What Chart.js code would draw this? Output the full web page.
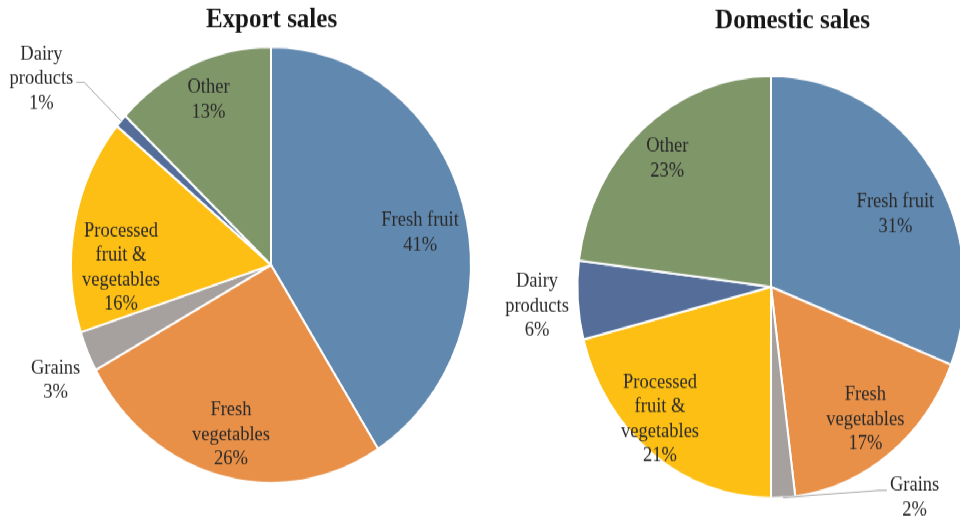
<!DOCTYPE html>
<html>
<head>
<meta charset="utf-8">
<title>Export and domestic sales</title>
<script src="https://cdn.jsdelivr.net/npm/chart.js@4/dist/chart.umd.min.js"></script>
<style>
  html, body { margin: 0; width: 960px; height: 521px; overflow: hidden; background: #fff; }
  /* the source picture is stretched a little vertically, so the whole sheet is too */
  #sheet { position: absolute; left: 0; top: 0; width: 960px; height: 478px; overflow: hidden;
           transform: scaleY(1.09); transform-origin: 0 0; }
  #sheet canvas { position: absolute; top: 0; }
</style>
</head>
<body>
<div id="sheet">
  <canvas id="exportPie" width="480" height="478" style="left:0"></canvas>
  <canvas id="domesticPie" width="500" height="478" style="left:480px"></canvas>
</div>
<script>
// ---- data (share of sales, %) ----
const categoryLines = [["Fresh fruit"], ["Fresh", "vegetables"], ["Grains"],
                       ["Processed", "fruit &", "vegetables"], ["Dairy", "products"], ["Other"]];
const categories = categoryLines.map(l => l.join(" "));
const exportShares   = [41, 26, 3, 16, 1, 13];
const domesticShares = [31, 17, 2, 21, 6, 23];
const sliceColors = ["#6189b0", "#e88f48", "#a6a19e", "#fdbf13", "#546e99", "#7f9669"];

const FONT = '"Liberation Serif", "Times New Roman", serif';
const LH = 22.5;

// where each label sits: [fraction of radius, angle nudge in degrees] — mimics Excel's best fit
const exportFit   = [[0.76, 5], [0.805, 0], [1.2, -2.8], [0.75, -11.7], [1.43, -4.8], [0.82, 1]];
const domesticFit = [[0.729, 6], [0.795, 0], [1.244, -33], [0.85, 4.6], [1.212, -0.7], [0.81, 0]];

const sliceText = {
  id: "sliceText",
  afterDatasetsDraw(chart, args, o) {
    const ctx = chart.ctx;
    const arcs = chart.getDatasetMeta(0).data;
    const values = chart.data.datasets[0].data;
    ctx.save();
    ctx.fillStyle = "#161616";
    ctx.textAlign = "center";
    ctx.textBaseline = "alphabetic";
    ctx.font = "bold 25px " + FONT;
    ctx.fillText(o.title, arcs[0].x + o.titleDx, o.titleY);

    ctx.font = "18.5px " + FONT;
    ctx.textBaseline = "middle";
    ctx.fillStyle = "#2a2a2a";
    arcs.forEach((arc, i) => {
      const p = arc.getProps(["x", "y", "startAngle", "endAngle", "outerRadius"], true);
      const [f, da] = o.fit[i];
      const mid = (p.startAngle + p.endAngle) / 2;
      const a = mid + da * Math.PI / 180;
      const lx = p.x + Math.cos(a) * p.outerRadius * f;
      const ly = p.y + Math.sin(a) * p.outerRadius * f;
      const lines = categoryLines[i].concat(values[i] + "%");
      lines.forEach((t, k) => ctx.fillText(t, lx, ly + (k - (lines.length - 1) / 2) * LH));

      const ld = (o.leaders || []).find(l => l.i === i);
      if (ld) {
        const hw = ctx.measureText(lines[ld.line]).width / 2;
        const yy = ly + (ld.line - (lines.length - 1) / 2) * LH + ld.dy;
        ctx.beginPath();
        ctx.moveTo(p.x + Math.cos(mid) * p.outerRadius, p.y + Math.sin(mid) * p.outerRadius);
        ctx.lineTo(lx + ld.side * (hw + 11), yy);
        ctx.lineTo(lx + ld.side * (hw + 3), yy);
        ctx.strokeStyle = "#a6a6a6";
        ctx.lineWidth = 1;
        ctx.stroke();
      }
    });
    ctx.restore();
  },
};

function pie(id, values, padding, text) {
  return new Chart(document.getElementById(id), {
    type: "pie",
    data: {
      labels: categories,
      datasets: [{ data: values, backgroundColor: sliceColors, borderColor: "#ffffff", borderWidth: 2 }],
    },
    options: {
      responsive: false, animation: false, devicePixelRatio: 1,
      layout: { padding },
      plugins: { legend: { display: false }, tooltip: { enabled: false }, sliceText: text },
    },
    plugins: [sliceText],
  });
}

pie("exportPie", exportShares, { left: 70, right: 8, top: 42.1, bottom: 33.9 },
    { title: "Export sales", titleDx: 0.5, titleY: 24.8, fit: exportFit,
      leaders: [{ i: 4, line: 1, side: 1, dy: 3 }] });

pie("domesticPie", domesticShares, { left: 96.4, right: 14.4, top: 68.7, bottom: 20.1 },
    { title: "Domestic sales", titleDx: 21.5, titleY: 26, fit: domesticFit,
      leaders: [{ i: 2, line: 0, side: -1, dy: 4.5 }] });
</script>
</body>
</html>
